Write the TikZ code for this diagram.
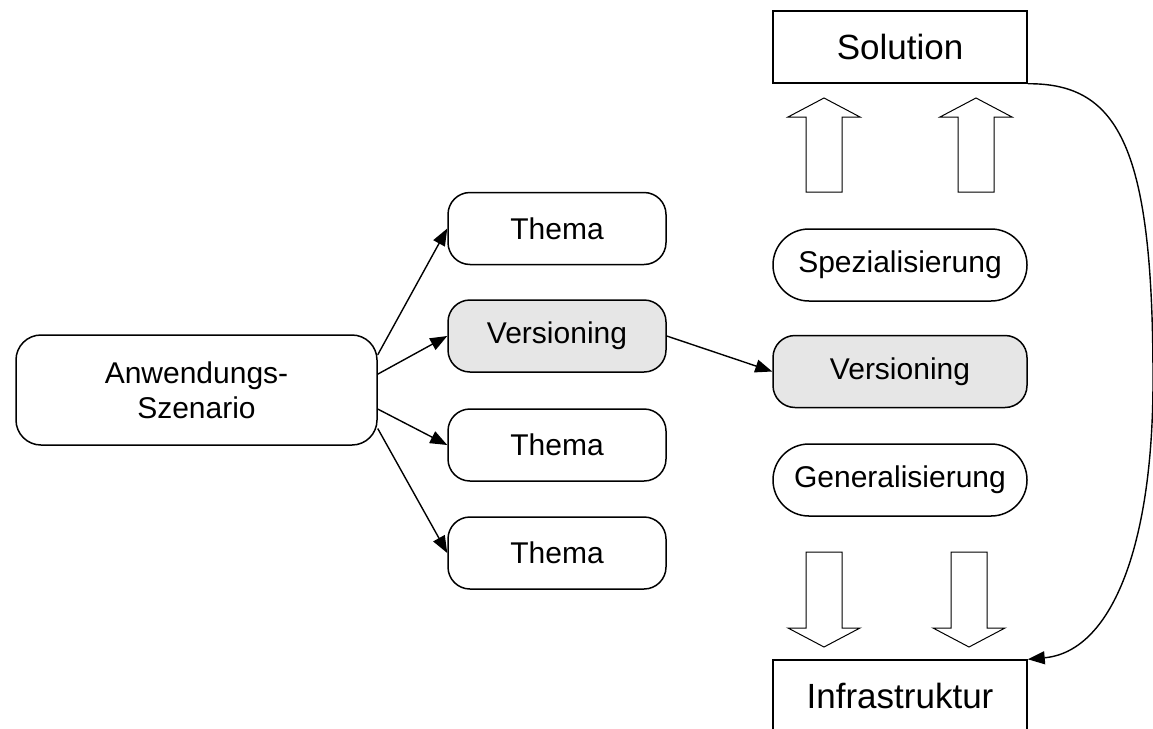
\documentclass[tikz,border=0pt]{standalone}
\usepackage{fontspec}
\setmainfont{Liberation Sans}
\usetikzlibrary{arrows.meta}
\definecolor{boxgray}{HTML}{E6E6E6}
\tikzset{
  x=1pt, y=-1pt,
  base/.style={draw, line width=1.5pt, inner sep=0pt, align=center,
    font=\fontsize{30pt}{35pt}\selectfont},
  rbox/.style={base, rounded corners=22pt, minimum width=218pt, minimum height=72pt},
  pill/.style={base, rounded corners=35.9pt, minimum width=254pt, minimum height=72pt},
  vbox/.style={base, rounded corners=22pt, minimum width=254pt, minimum height=72pt, fill=boxgray},
  sbox/.style={base, minimum width=254pt, minimum height=72pt, font=\fontsize{35pt}{40pt}\selectfont},
  conn/.style={line width=1.4pt, -{Triangle[length=17pt,width=13pt]}},
  blockarrow/.style={draw, line width=1pt, fill=white}
}
\begin{document}
\begin{tikzpicture}
\useasboundingbox (0,0) rectangle (1153,728);
\node[base, rounded corners=25pt, minimum width=361pt, minimum height=110pt] (A) at (196.5,390) {Anwendungs-\\Szenario};
\node[rbox] (T1) at (557,228.5) {Thema};
\node[rbox, fill=boxgray] (VL) at (557,336) {Versioning};
\node[rbox] (T2) at (557,445) {Thema};
\node[rbox] (T3) at (557,553) {Thema};
\node[sbox] (Sol) at (900,47) {Solution};
\node[sbox] (Inf) at (900,696) {Infrastruktur};
\node[pill] (Spez) at (900,265) {Spezialisierung};
\node[vbox] (VR) at (900,371.5) {Versioning};
\node[pill] (Gen) at (900,480) {Generalisierung};
% connectors
\draw[conn] (A.11.6) -- (T1.west);
\draw[conn] (A.5.7) -- (VL.west);
\draw[conn] (A.-6) -- (T2.west);
\draw[conn] (A.-12) -- (T3.west);
\draw[conn] (VL.east) -- (VR.west);
\coordinate (cr) at (1153,380);
\draw[conn] (Sol.south east) .. controls (1120,83) and (1153,150) .. (cr)
  .. controls (1153,550) and (1110,652) .. (Inf.north east);
% block arrows up
\draw[blockarrow] (806,192) -- (806,117) -- (788,117) -- (824,98) -- (860,117) -- (842,117) -- (842,192) -- cycle;
\draw[blockarrow] (958,192) -- (958,117) -- (940,117) -- (976,98) -- (1012,117) -- (994,117) -- (994,192) -- cycle;
% block arrows down
\draw[blockarrow] (806,552) -- (806,628) -- (788,628) -- (824,647) -- (860,628) -- (842,628) -- (842,552) -- cycle;
\draw[blockarrow] (951,552) -- (951,628) -- (933,628) -- (969,647) -- (1005,628) -- (987,628) -- (987,552) -- cycle;
\end{tikzpicture}
\end{document}
